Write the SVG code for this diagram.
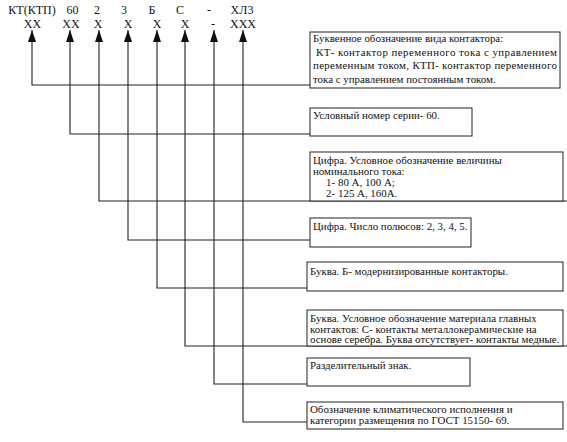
<svg xmlns="http://www.w3.org/2000/svg" width="567" height="442" viewBox="0 0 567 442">
<style>
.hdr{font-family:"Liberation Serif","Times New Roman",serif;font-size:12px;fill:#111;text-anchor:middle}
.t{font-family:"Liberation Serif","Times New Roman",serif;font-size:10.9px;fill:#111}
.box{fill:#fff;stroke:#222;stroke-width:1}
.c{fill:none;stroke:#222;stroke-width:1.1}
</style>
<defs>
<marker id="ah" viewBox="0 0 12 8" refX="12" refY="4" markerWidth="12" markerHeight="8" markerUnits="userSpaceOnUse" orient="auto-start-reverse">
<path d="M0,0 L12,4 L0,8 z" fill="#111"/>
</marker>
</defs>
<g id="header">
<text class="hdr" x="32" y="14">КТ(КТП)</text>
<text class="hdr" x="72.5" y="14">60</text>
<text class="hdr" x="97" y="14">2</text>
<text class="hdr" x="124" y="14">3</text>
<text class="hdr" x="152" y="14">Б</text>
<text class="hdr" x="180" y="14">С</text>
<text class="hdr" x="209" y="14">-</text>
<text class="hdr" x="242" y="14">ХЛ3</text>
<text class="hdr" x="32.5" y="28">ХХ</text>
<text class="hdr" x="71" y="28">ХХ</text>
<text class="hdr" x="98" y="28">Х</text>
<text class="hdr" x="128" y="28">Х</text>
<text class="hdr" x="157" y="28">Х</text>
<text class="hdr" x="185" y="28">Х</text>
<text class="hdr" x="213" y="28">-</text>
<text class="hdr" x="243" y="28">ХХХ</text>
</g>
<g id="connectors">
<path class="c" d="M32,30 V85 H310" marker-start="url(#ah)"/>
<path class="c" d="M70,30 V134 H310" marker-start="url(#ah)"/>
<path class="c" d="M99,30 V201 H567" marker-start="url(#ah)"/>
<path class="c" d="M128,30 V240 H310" marker-start="url(#ah)"/>
<path class="c" d="M157,30 V288 H307" marker-start="url(#ah)"/>
<path class="c" d="M185,30 V346 H567" marker-start="url(#ah)"/>
<path class="c" d="M214,30 V384 H307" marker-start="url(#ah)"/>
<path class="c" d="M243,30 V422 H307" marker-start="url(#ah)"/>
</g>
<g id="box1">
<rect class="box" x="310" y="32" width="250" height="56"/>
<text class="t" x="313" y="42">Буквенное обозначение вида контактора:</text>
<text class="t" x="316" y="55.5" textLength="241" lengthAdjust="spacing">КТ- контактор переменного тока с управлением</text>
<text class="t" x="313" y="69" textLength="244" lengthAdjust="spacing">переменным током, КТП- контактор переменного</text>
<text class="t" x="313" y="82.5">тока с управлением постоянным током.</text>
</g>
<g id="box2">
<rect class="box" x="310" y="108" width="162" height="28"/>
<text class="t" x="313" y="119">Условный номер серии- 60.</text>
</g>
<g id="box3">
<rect class="box" x="310" y="152" width="253" height="49"/>
<text class="t" x="313" y="164">Цифра. Условное обозначение величины</text>
<text class="t" x="313" y="175">номинального тока:</text>
<text class="t" x="326" y="186">1-</text>
<text class="t" x="338" y="186">80 А, 100 А;</text>
<text class="t" x="326" y="197">2-</text>
<text class="t" x="338" y="197">125 А, 160А.</text>
</g>
<g id="box4">
<rect class="box" x="310" y="218" width="161" height="29"/>
<text class="t" x="313" y="230">Цифра. Число полюсов: 2, 3, 4, 5.</text>
</g>
<g id="box5">
<rect class="box" x="307" y="262" width="256" height="29"/>
<text class="t" x="310" y="275">Буква. Б- модернизированные контакторы.</text>
</g>
<g id="box6">
<rect class="box" x="307" y="310" width="256" height="36"/>
<text class="t" x="310" y="321.5">Буква. Условное обозначение материала главных</text>
<text class="t" x="310" y="332.5">контактов: С- контакты металлокерамические на</text>
<text class="t" x="310" y="343">основе серебра. Буква отсутствует- контакты медные.</text>
</g>
<g id="box7">
<rect class="box" x="307" y="358" width="163" height="28"/>
<text class="t" x="310" y="369">Разделительный знак.</text>
</g>
<g id="box8">
<rect class="box" x="307" y="402" width="256" height="27"/>
<text class="t" x="310" y="413">Обозначение климатического исполнения и</text>
<text class="t" x="310" y="424">категории размещения по ГОСТ 15150- 69.</text>
</g>
</svg>
